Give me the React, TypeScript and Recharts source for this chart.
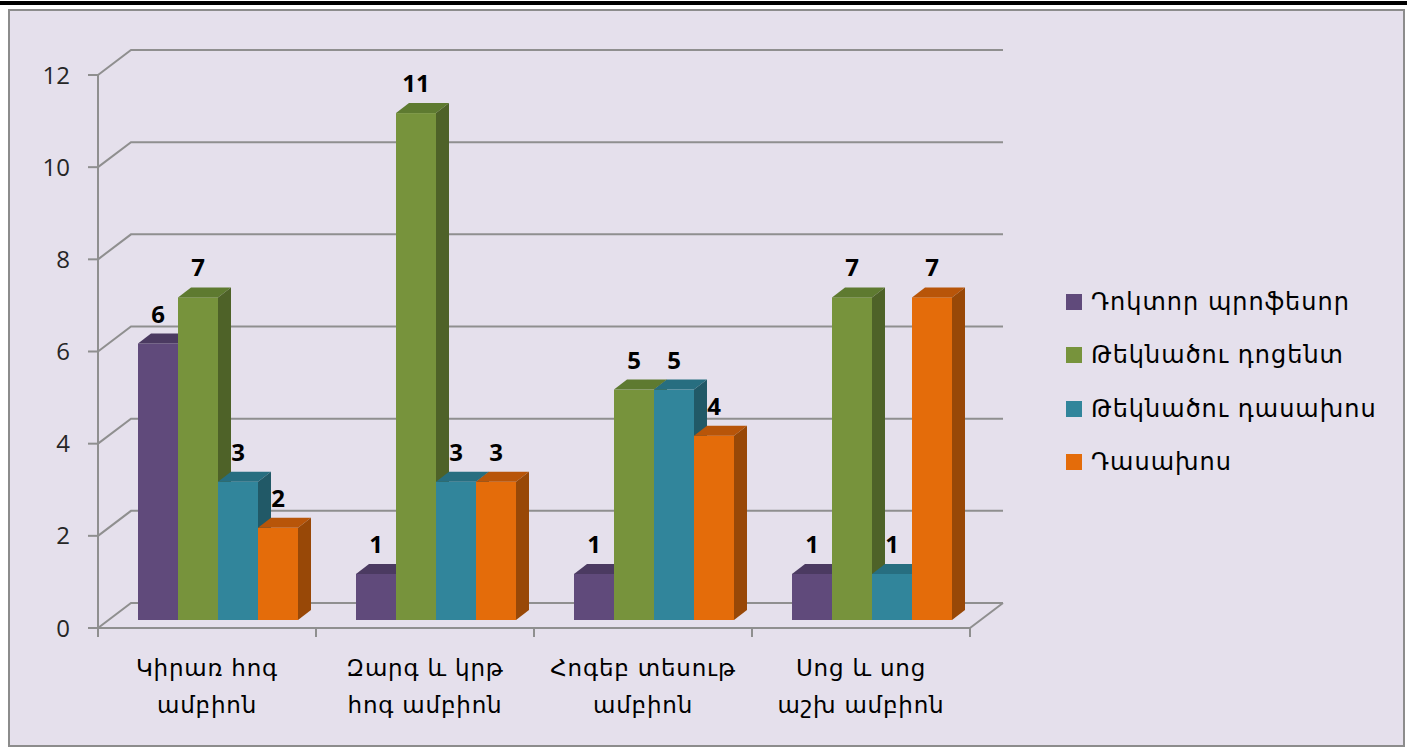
import React from 'react';
import { BarChart, Bar, XAxis, YAxis, CartesianGrid, Legend, LabelList } from 'recharts';

// chart data
const categories = ['Կիրառ հոգ\nամբիոն', 'Զարգ և կրթ\nհոգ ամբիոն', 'Հոգեբ տեսութ\nամբիոն', 'Սոց և սոց\nաշխ ամբիոն'];
const doktorProfesor = [6, 1, 1, 1];
const teknatsuDotsent = [7, 11, 5, 7];
const teknatsuDasakhos = [3, 3, 5, 1];
const dasakhos = [2, 3, 4, 7];
const yTicks = [0, 2, 4, 6, 8, 10, 12];

const series = [
    { key: 'a', name: 'Դոկտոր պրոֆեսոր', values: doktorProfesor, fill: '#604A7B', top: '#4B3A61', side: '#403152' },
    { key: 'b', name: 'Թեկնածու դոցենտ', values: teknatsuDotsent, fill: '#77933C', top: '#5E7A30', side: '#4E6228' },
    { key: 'c', name: 'Թեկնածու դասախոս', values: teknatsuDasakhos, fill: '#31859B', top: '#276E80', side: '#215967' },
    { key: 'd', name: 'Դասախոս', values: dasakhos, fill: '#E46C0A', top: '#B85509', side: '#984807' },
];

const data = categories.map((name, i) => {
    const row: Record<string, string | number> = { name };
    series.forEach((s) => { row[s.key] = s.values[i]; });
    return row;
});

// 3d look
const WALL_DX = 33;
const WALL_DY = 25;
const SHIFT_X = 10;
const SHIFT_Y = 8;
const DEPTH_X = 13;
const DEPTH_Y = 10;
const GRID = '#8F8F8F';
const ARM_FONT = '"DejaVu Sans", sans-serif';
const NUM_FONT = '"Open Sans", sans-serif';

const Bar3D = (props: any) => {
    const { x, y, width, height, fill, top, side } = props;
    if (width == null || height == null) return null;
    const fx = x + SHIFT_X;
    const fy = y - SHIFT_Y;
    return (
        <g>
            <rect x={fx} y={fy} width={width} height={height} fill={fill} />
            <polygon
                points={`${fx},${fy} ${fx + DEPTH_X},${fy - DEPTH_Y} ${fx + width + DEPTH_X},${fy - DEPTH_Y} ${fx + width},${fy}`}
                fill={top}
            />
            <polygon
                points={`${fx + width},${fy} ${fx + width + DEPTH_X},${fy - DEPTH_Y} ${fx + width + DEPTH_X},${fy + height - DEPTH_Y} ${fx + width},${fy + height}`}
                fill={side}
            />
        </g>
    );
};

const BarLabel = (props: any) => {
    const { x, y, width, value } = props;
    return (
        <text
            x={x + width / 2 + SHIFT_X}
            y={y - SHIFT_Y - DEPTH_Y - 11}
            textAnchor="middle"
            fontFamily={NUM_FONT}
            fontWeight="bold"
            fontSize={24}
            fill="#000"
        >
            {value}
        </text>
    );
};

const gridLine = (p: any) => {
    const { x1, x2, y1, index } = p;
    const floor = p.height != null && p.y != null ? Math.abs(y1 - (p.y + p.height)) < 1 : index === 0;
    let d = `M${x1},${y1} L${x1 + WALL_DX},${y1 - WALL_DY} L${x2 + WALL_DX},${y1 - WALL_DY}`;
    if (floor) d += ` M${x2},${y1} L${x2 + WALL_DX},${y1 - WALL_DY}`;
    return <path key={`g-${index}`} d={d} stroke={GRID} strokeWidth={2} fill="none" />;
};

const XTick = (props: any) => {
    const { x, y, payload, index, visibleTicksCount, width } = props;
    const band = width && visibleTicksCount ? width / visibleTicksCount : 218;
    const left = x - band / 2;
    const lines = String(payload.value).split('\n');
    return (
        <g>
            <line x1={left} y1={y} x2={left} y2={y + 9} stroke={GRID} strokeWidth={2} />
            {index === visibleTicksCount - 1 && (
                <line x1={left + band} y1={y} x2={left + band} y2={y + 9} stroke={GRID} strokeWidth={2} />
            )}
            <text x={x} y={y + 48} textAnchor="middle" fontFamily={ARM_FONT} fontSize={23} letterSpacing={0.8} fill="#000">
                {lines.map((l, i) => (
                    <tspan key={i} x={x} dy={i === 0 ? 0 : 37}>{l}</tspan>
                ))}
            </text>
        </g>
    );
};

const LegendBox = () => (
    <div style={{ width: 340 }}>
        {series.map((s) => (
            <div key={s.key} style={{ display: 'flex', alignItems: 'center', height: 53.5, whiteSpace: 'nowrap' }}>
                <span style={{ width: 16, height: 16, background: s.fill, marginLeft: 5, marginRight: 9 }} />
                <span style={{ fontFamily: ARM_FONT, fontSize: 24, letterSpacing: 1, color: '#000' }}>{s.name}</span>
            </div>
        ))}
    </div>
);

const App = () => {
    return (
        <div style={{ position: 'absolute', left: 0, top: 0, width: 1407, height: 749, background: '#fff' }}>
            <div style={{ position: 'absolute', left: 0, top: 1, width: 1407, height: 4, background: '#000' }} />
            <div
                style={{
                    position: 'absolute', left: 8, top: 9, width: 1393, height: 734,
                    background: '#E5E0EC', border: '2px solid #8C8C8C',
                }}
            />
            <div style={{ position: 'absolute', left: 0, top: 0 }}>
                <BarChart
                    width={1407}
                    height={749}
                    data={data}
                    margin={{ top: 75, right: 437, left: 38, bottom: 41 }}
                    barCategoryGap={30}
                    barGap={0}
                >
                    <CartesianGrid vertical={false} horizontal={gridLine} />
                    <XAxis
                        dataKey="name"
                        height={80}
                        interval={0}
                        axisLine={{ stroke: GRID, strokeWidth: 2 }}
                        tickLine={false}
                        tickSize={0}
                        tickMargin={0}
                        tick={<XTick />}
                    />
                    <YAxis
                        width={60}
                        domain={[0, 12]}
                        ticks={yTicks}
                        axisLine={{ stroke: GRID, strokeWidth: 2 }}
                        tickLine={{ stroke: GRID, strokeWidth: 2 }}
                        tickSize={10}
                        tickMargin={18}
                        tick={{ fontFamily: NUM_FONT, fontSize: 24, fill: '#262626' }}
                    />
                    <Legend
                        layout="vertical"
                        align="center"
                        verticalAlign="middle"
                        wrapperStyle={{ left: 1061, top: 275 }}
                        content={<LegendBox />}
                    />
                    {series.map((s) => (
                        <Bar
                            key={s.key}
                            dataKey={s.key}
                            name={s.name}
                            fill={s.fill}
                            isAnimationActive={false}
                            shape={(p: any) => <Bar3D {...p} fill={s.fill} top={s.top} side={s.side} />}
                        >
                            <LabelList dataKey={s.key} content={<BarLabel />} />
                        </Bar>
                    ))}
                </BarChart>
            </div>
        </div>
    );
};

export default App;
